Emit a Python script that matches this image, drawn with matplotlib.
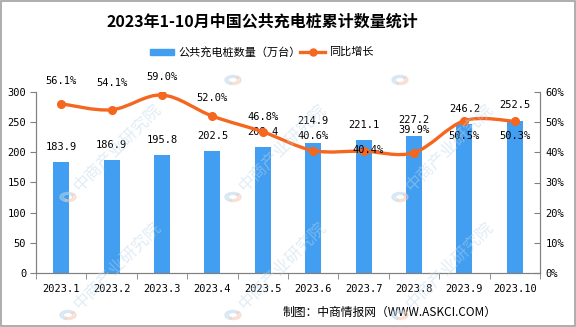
import matplotlib

matplotlib.use('Agg')

import matplotlib.pyplot as plt
import numpy as np
from matplotlib.patches import PathPatch, Rectangle, Wedge
from matplotlib.path import Path
from matplotlib.lines import Line2D

plt.rcParams['font.family'] = ['Noto Sans CJK SC', 'DejaVu Sans']
NUM_FONT = ['DejaVu Sans Mono', 'Noto Sans CJK SC']

months = ['2023.1', '2023.2', '2023.3', '2023.4', '2023.5',
          '2023.6', '2023.7', '2023.8', '2023.9', '2023.10']
piles = [183.9, 186.9, 195.8, 202.5, 208.4, 214.9, 221.1, 227.2, 246.2, 252.5]
yoy = [56.1, 54.1, 59.0, 52.0, 46.8, 40.6, 40.4, 39.9, 50.5, 50.3]

BAR = '#419ef0'
LINE = '#f5661f'
AXIS = '#808080'

# label offsets in pixels (dx, dy) from the marker / bar top
pct_off = [(0, 23), (0, 27), (0, 18), (0, 18), (0, 15),
           (0, 15), (4, 1), (0, 23), (0, -15), (0, -15)]
bar_off = [15, 15, 15, 15, 15, 22, 15, 16, 15, 16]


def smooth_path(xs, ys):
    """Catmull-Rom curve through the points as cubic Bezier segments."""
    pts = np.column_stack([xs, ys]).astype(float)
    n = len(pts)
    verts = [pts[0]]
    codes = [Path.MOVETO]
    for i in range(n - 1):
        p0 = pts[i - 1] if i > 0 else pts[i]
        p1, p2 = pts[i], pts[i + 1]
        p3 = pts[i + 2] if i + 2 < n else pts[i + 1]
        c1 = p1 + (p2 - p0) / 6.0
        c2 = p2 - (p3 - p1) / 6.0
        verts += [c1, c2, p2]
        codes += [Path.CURVE4] * 3
    return Path(verts, codes)


fig = plt.figure(figsize=(5.76, 3.27), dpi=100)
ax = fig.add_axes([36 / 576, 1 - 273 / 327, 504 / 576, 181 / 327])
ax2 = ax.twinx()

x = np.arange(len(months))
ax.bar(x, piles, width=0.32, color=BAR, zorder=2)
ax.set_xlim(-0.5, len(months) - 0.5)
ax.set_ylim(0, 300)
ax.set_yticks(range(0, 301, 50))
ax.set_xticks(x)
ax.set_xticklabels(months, family=NUM_FONT)
ax.set_xticks(np.arange(-0.5, len(months), 1), minor=True)
ax.tick_params(axis='x', which='major', length=0, pad=8, labelsize=7.5)
ax.tick_params(axis='x', which='minor', length=4, color=AXIS, direction='out')
ax.tick_params(axis='y', length=4, color=AXIS, direction='out', labelsize=7.5, pad=3)
for lbl in ax.get_yticklabels():
    lbl.set_family(NUM_FONT)

ax2.set_ylim(0, 60)
ax2.set_yticks(range(0, 61, 10))
ax2.set_yticklabels([f'{v}%' for v in range(0, 61, 10)], family=NUM_FONT)
ax2.tick_params(axis='y', length=4, color=AXIS, direction='in', labelsize=7.5, pad=4)

for a in (ax, ax2):
    a.spines['top'].set_visible(False)
    for side in ('left', 'right', 'bottom'):
        a.spines[side].set_color(AXIS)

ax2.add_patch(PathPatch(smooth_path(x, yoy), facecolor='none', edgecolor=LINE,
                        lw=2.4, zorder=3, capstyle='round'))
ax2.plot(x, yoy, 'o', color=LINE, ms=5.5, zorder=4)

for xi, v, dy in zip(x, piles, bar_off):
    ax.annotate(f'{v:.1f}', (xi, v), xytext=(0, dy), textcoords='offset pixels',
                ha='center', va='center', fontsize=7.5, family=NUM_FONT, zorder=5)
for xi, v, (dx, dy) in zip(x, yoy, pct_off):
    ax2.annotate(f'{v:.1f}%', (xi, v), xytext=(dx, dy), textcoords='offset pixels',
                 ha='center', va='center', fontsize=7.5, family=NUM_FONT, zorder=5)

fig.text(262 / 576, 1 - 22 / 327, '2023年1-10月中国公共充电桩累计数量统计',
         ha='center', va='center', fontsize=11.5, fontweight='bold')

# legend drawn by hand in figure pixels
fig.patches.append(Rectangle((150 / 576, 1 - 55 / 327), 24 / 576, 6 / 327,
                             transform=fig.transFigure, color=BAR))
fig.text(178 / 576, 1 - 52 / 327, '公共充电桩数量（万台）', ha='left', va='center', fontsize=8)
fig.lines.append(Line2D([300 / 576, 325 / 576], [1 - 52 / 327] * 2,
                        transform=fig.transFigure, color=LINE, lw=2.4))
fig.lines.append(Line2D([312.5 / 576], [1 - 52 / 327], transform=fig.transFigure,
                        color=LINE, marker='o', ms=5))
fig.text(329 / 576, 1 - 52 / 327, '同比增长', ha='left', va='center', fontsize=8)

fig.text(497 / 576, 1 - 312 / 327, '制图：中商情报网（WWW.ASKCI.COM）',
         ha='right', va='center', fontsize=8.5)

# faint diagonal watermark
for wx, wy in [(68, 197), (233, 197), (400, 197), (233, 80), (400, 80),
               (68, 315), (233, 315), (400, 315)]:
    fx, fy = wx / 576, 1 - wy / 327
    fig.patches.append(Wedge((fx, fy), 0.014, 40, 250, width=0.006,
                             transform=fig.transFigure, color='#bcd6ea',
                             alpha=0.45, zorder=10))
    fig.patches.append(Wedge((fx, fy), 0.014, 250, 40, width=0.006,
                             transform=fig.transFigure, color='#f4c9b6',
                             alpha=0.45, zorder=10))
    if wy > 100:
        fig.text(fx + 8 / 576, fy + 8 / 327, '中商产业研究院', rotation=45,
                 rotation_mode='anchor', ha='left', va='center', fontsize=12,
                 color='#bcd6ea', alpha=0.45, zorder=10)

fig.patches.append(Rectangle((0.002, 0.003), 0.996, 0.994, transform=fig.transFigure,
                             fill=False, edgecolor='#a0a0a0', lw=1.2))

fig.savefig('out.png', dpi=100)
